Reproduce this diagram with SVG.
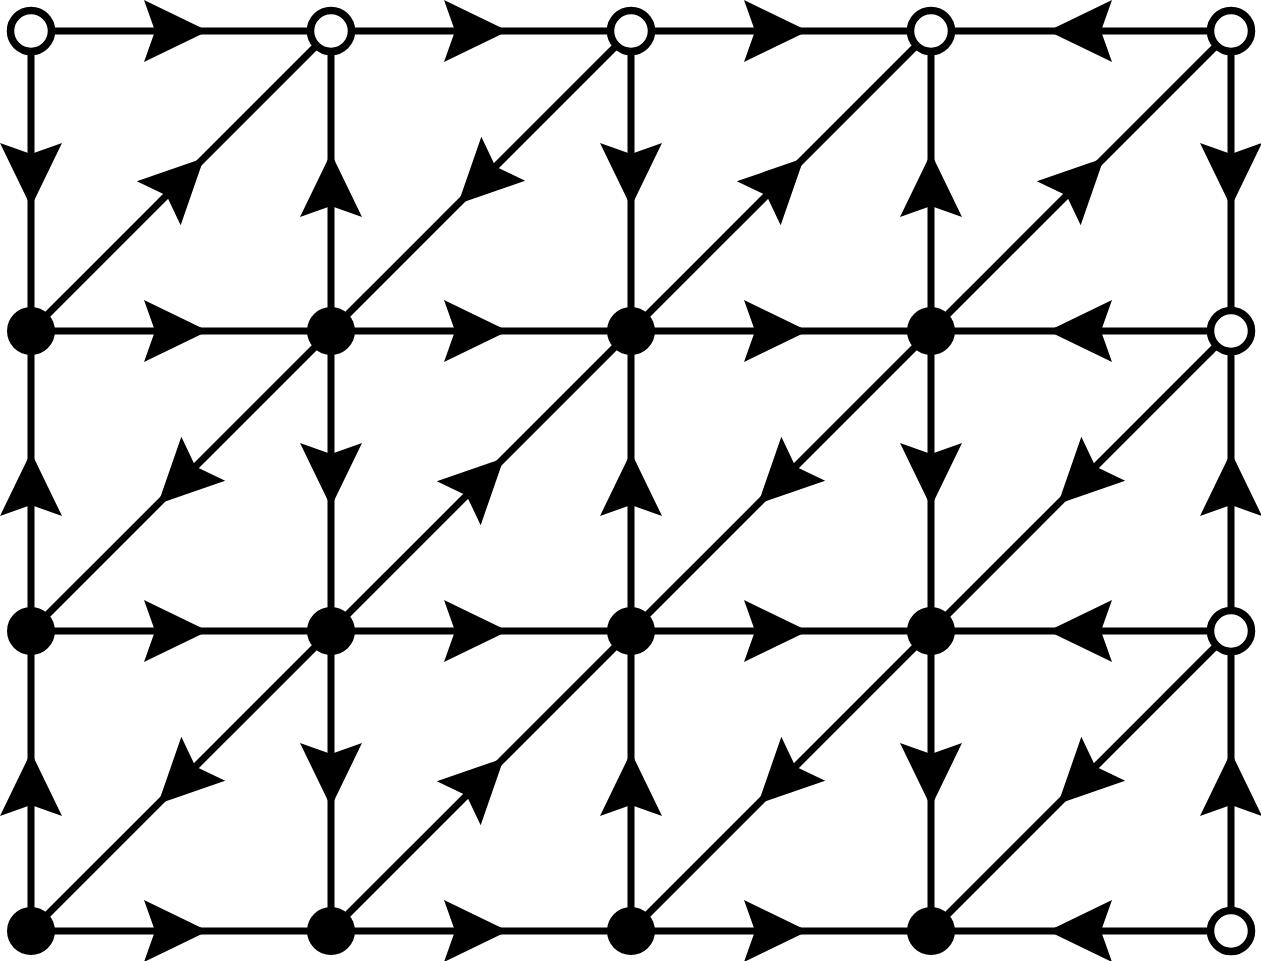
<svg xmlns="http://www.w3.org/2000/svg" xmlns:xlink="http://www.w3.org/1999/xlink" width="1261" height="961" viewBox="0 0 1261 961">
<style>
.e{stroke:#000;stroke-width:7;fill:none}
.a{fill:#000;stroke:none}
.open{fill:#fff;stroke:#000;stroke-width:7.5}
.full{fill:#000;stroke:none}
</style>
<defs>
<path id="ah" d="M0,0 L-64,-31 L-53,0 L-64,31 Z"/>
</defs>
<rect width="1261" height="961" fill="#fff"/>
<g id="connectors">
<g class="e">
<line x1="31" y1="31" x2="1231" y2="31"/>
<line x1="31" y1="331" x2="1231" y2="331"/>
<line x1="31" y1="631" x2="1231" y2="631"/>
<line x1="31" y1="931" x2="1231" y2="931"/>
<line x1="31" y1="31" x2="31" y2="931"/>
<line x1="331" y1="31" x2="331" y2="931"/>
<line x1="631" y1="31" x2="631" y2="931"/>
<line x1="931" y1="31" x2="931" y2="931"/>
<line x1="1231" y1="31" x2="1231" y2="931"/>
<line x1="31" y1="331" x2="331" y2="31"/>
<line x1="331" y1="331" x2="631" y2="31"/>
<line x1="631" y1="331" x2="931" y2="31"/>
<line x1="931" y1="331" x2="1231" y2="31"/>
<line x1="31" y1="631" x2="331" y2="331"/>
<line x1="331" y1="631" x2="631" y2="331"/>
<line x1="631" y1="631" x2="931" y2="331"/>
<line x1="931" y1="631" x2="1231" y2="331"/>
<line x1="31" y1="931" x2="331" y2="631"/>
<line x1="331" y1="931" x2="631" y2="631"/>
<line x1="631" y1="931" x2="931" y2="631"/>
<line x1="931" y1="931" x2="1231" y2="631"/>
</g>
<g class="a">
<use xlink:href="#ah" transform="translate(208,31)"/>
<use xlink:href="#ah" transform="translate(508,31)"/>
<use xlink:href="#ah" transform="translate(808,31)"/>
<use xlink:href="#ah" transform="translate(1048,31) rotate(180)"/>
<use xlink:href="#ah" transform="translate(208,331)"/>
<use xlink:href="#ah" transform="translate(508,331)"/>
<use xlink:href="#ah" transform="translate(808,331)"/>
<use xlink:href="#ah" transform="translate(1048,331) rotate(180)"/>
<use xlink:href="#ah" transform="translate(208,631)"/>
<use xlink:href="#ah" transform="translate(508,631)"/>
<use xlink:href="#ah" transform="translate(808,631)"/>
<use xlink:href="#ah" transform="translate(1048,631) rotate(180)"/>
<use xlink:href="#ah" transform="translate(208,931)"/>
<use xlink:href="#ah" transform="translate(508,931)"/>
<use xlink:href="#ah" transform="translate(808,931)"/>
<use xlink:href="#ah" transform="translate(1048,931) rotate(180)"/>
<use xlink:href="#ah" transform="translate(31,207) rotate(90)"/>
<use xlink:href="#ah" transform="translate(31,452) rotate(-90)"/>
<use xlink:href="#ah" transform="translate(31,752) rotate(-90)"/>
<use xlink:href="#ah" transform="translate(331,153) rotate(-90)"/>
<use xlink:href="#ah" transform="translate(331,507) rotate(90)"/>
<use xlink:href="#ah" transform="translate(331,807) rotate(90)"/>
<use xlink:href="#ah" transform="translate(631,207) rotate(90)"/>
<use xlink:href="#ah" transform="translate(631,452) rotate(-90)"/>
<use xlink:href="#ah" transform="translate(631,752) rotate(-90)"/>
<use xlink:href="#ah" transform="translate(931,153) rotate(-90)"/>
<use xlink:href="#ah" transform="translate(931,507) rotate(90)"/>
<use xlink:href="#ah" transform="translate(931,807) rotate(90)"/>
<use xlink:href="#ah" transform="translate(1231,207) rotate(90)"/>
<use xlink:href="#ah" transform="translate(1231,452) rotate(-90)"/>
<use xlink:href="#ah" transform="translate(1231,752) rotate(-90)"/>
<use xlink:href="#ah" transform="translate(204,158) rotate(-45)"/>
<use xlink:href="#ah" transform="translate(458,204) rotate(135)"/>
<use xlink:href="#ah" transform="translate(804,158) rotate(-45)"/>
<use xlink:href="#ah" transform="translate(1104,158) rotate(-45)"/>
<use xlink:href="#ah" transform="translate(158,504) rotate(135)"/>
<use xlink:href="#ah" transform="translate(504,458) rotate(-45)"/>
<use xlink:href="#ah" transform="translate(758,504) rotate(135)"/>
<use xlink:href="#ah" transform="translate(1058,504) rotate(135)"/>
<use xlink:href="#ah" transform="translate(158,804) rotate(135)"/>
<use xlink:href="#ah" transform="translate(504,758) rotate(-45)"/>
<use xlink:href="#ah" transform="translate(758,804) rotate(135)"/>
<use xlink:href="#ah" transform="translate(1058,804) rotate(135)"/>
</g>
</g>
<g id="n_0_0"><circle class="open" cx="31" cy="31" r="20.5"/></g>
<g id="n_1_0"><circle class="open" cx="331" cy="31" r="20.5"/></g>
<g id="n_2_0"><circle class="open" cx="631" cy="31" r="20.5"/></g>
<g id="n_3_0"><circle class="open" cx="931" cy="31" r="20.5"/></g>
<g id="n_4_0"><circle class="open" cx="1231" cy="31" r="20.5"/></g>
<g id="n_0_1"><circle class="full" cx="31" cy="331" r="24"/></g>
<g id="n_1_1"><circle class="full" cx="331" cy="331" r="24"/></g>
<g id="n_2_1"><circle class="full" cx="631" cy="331" r="24"/></g>
<g id="n_3_1"><circle class="full" cx="931" cy="331" r="24"/></g>
<g id="n_4_1"><circle class="open" cx="1231" cy="331" r="20.5"/></g>
<g id="n_0_2"><circle class="full" cx="31" cy="631" r="24"/></g>
<g id="n_1_2"><circle class="full" cx="331" cy="631" r="24"/></g>
<g id="n_2_2"><circle class="full" cx="631" cy="631" r="24"/></g>
<g id="n_3_2"><circle class="full" cx="931" cy="631" r="24"/></g>
<g id="n_4_2"><circle class="open" cx="1231" cy="631" r="20.5"/></g>
<g id="n_0_3"><circle class="full" cx="31" cy="931" r="24"/></g>
<g id="n_1_3"><circle class="full" cx="331" cy="931" r="24"/></g>
<g id="n_2_3"><circle class="full" cx="631" cy="931" r="24"/></g>
<g id="n_3_3"><circle class="full" cx="931" cy="931" r="24"/></g>
<g id="n_4_3"><circle class="open" cx="1231" cy="931" r="20.5"/></g>
</svg>
